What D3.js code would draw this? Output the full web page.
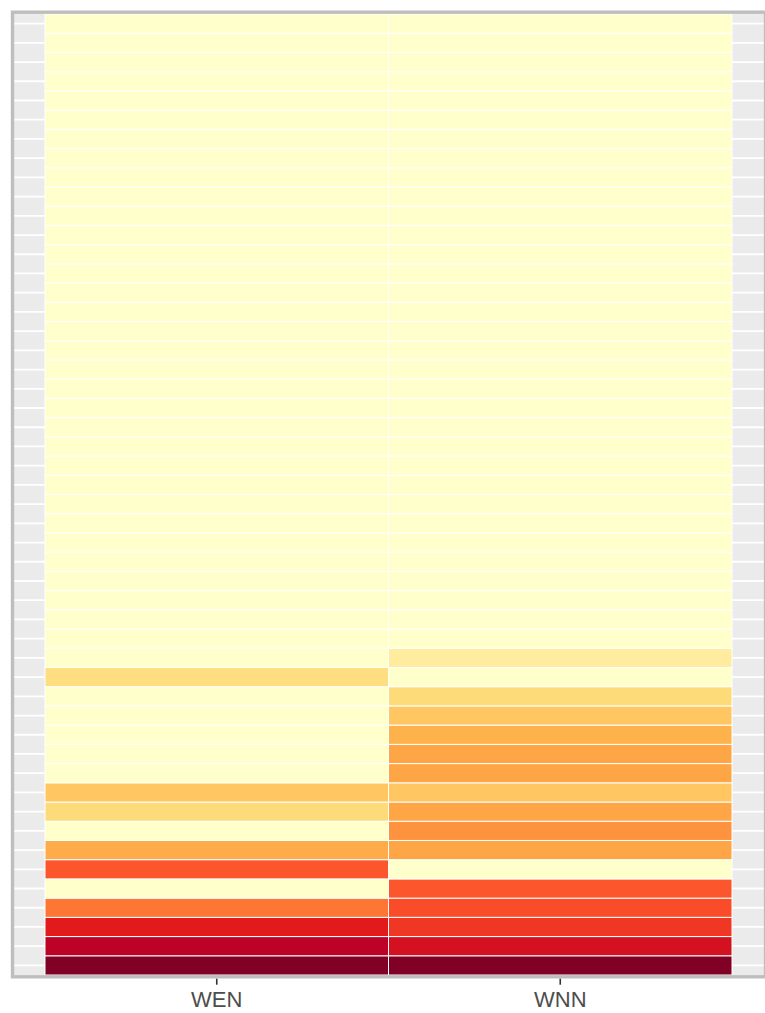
<!DOCTYPE html>
<html>
<head>
<meta charset="utf-8">
<script src="https://cdn.jsdelivr.net/npm/d3@7"></script>
<style>
  html, body { margin: 0; padding: 0; background: #ffffff; }
  svg { display: block; }
</style>
</head>
<body>
<svg id="chart" width="765" height="1013"></svg>
<script>
// ---- data ----
const categories = ["WEN", "WNN"];
// rows numbered from the bottom (1) to the top (50)
const rowIds = ["1","2","3","4","5","6","7","8","9","10",
  "11","12","13","14","15","16","17","18","19","20",
  "21","22","23","24","25","26","27","28","29","30",
  "31","32","33","34","35","36","37","38","39","40",
  "41","42","43","44","45","46","47","48","49","50"];
// fill value per row (0 = palest, 1 = darkest), bottom row first
const wenValues = [1.00, 0.87, 0.75, 0.55, 0.00, 0.61, 0.40, 0.00, 0.24, 0.31,
  0.00, 0.00, 0.00, 0.00, 0.00, 0.22, 0.00, 0.00, 0.00, 0.00,
  0.00, 0.00, 0.00, 0.00, 0.00, 0.00, 0.00, 0.00, 0.00, 0.00,
  0.00, 0.00, 0.00, 0.00, 0.00, 0.00, 0.00, 0.00, 0.00, 0.00,
  0.00, 0.00, 0.00, 0.00, 0.00, 0.00, 0.00, 0.00, 0.00, 0.00];
const wnnValues = [1.00, 0.80, 0.69, 0.63, 0.61, 0.00, 0.42, 0.48, 0.42, 0.31,
  0.42, 0.42, 0.375, 0.31, 0.24, 0.00, 0.13, 0.00, 0.00, 0.00,
  0.00, 0.00, 0.00, 0.00, 0.00, 0.00, 0.00, 0.00, 0.00, 0.00,
  0.00, 0.00, 0.00, 0.00, 0.00, 0.00, 0.00, 0.00, 0.00, 0.00,
  0.00, 0.00, 0.00, 0.00, 0.00, 0.00, 0.00, 0.00, 0.00, 0.00];
const paletteColors = ["#ffffcc","#ffeda0","#fed976","#feb24c","#fd8d3c",
  "#fc4e2a","#e31a1c","#bd0026","#800026"];

const cells = [];
rowIds.forEach((r, i) => {
  cells.push({ cat: categories[0], row: r, value: wenValues[i] });
  cells.push({ cat: categories[1], row: r, value: wnnValues[i] });
});

// ---- layout ----
const panel = { left: 14, top: 14, right: 764, bottom: 975 };
const svg = d3.select("#chart");

const x = d3.scaleBand().domain(categories).range([45, 732]).padding(0);
const y = d3.scaleBand().domain(rowIds).range([panel.bottom, panel.top]).padding(0);
const color = d3.scaleLinear()
  .domain(paletteColors.map((c, i) => i / (paletteColors.length - 1)))
  .range(paletteColors)
  .interpolate(d3.interpolateLab);

// panel background
svg.append("rect")
  .attr("x", panel.left).attr("y", panel.top)
  .attr("width", panel.right - panel.left)
  .attr("height", panel.bottom - panel.top)
  .attr("fill", "#ebebeb");

// horizontal grid lines at row centers
svg.append("g").selectAll("line")
  .data(rowIds)
  .join("line")
  .attr("x1", panel.left).attr("x2", panel.right)
  .attr("y1", d => y(d) + y.bandwidth() / 2)
  .attr("y2", d => y(d) + y.bandwidth() / 2)
  .attr("stroke", "#ffffff")
  .attr("stroke-width", 1.8);

// tiles
svg.append("g").selectAll("rect")
  .data(cells)
  .join("rect")
  .attr("x", d => x(d.cat))
  .attr("y", d => y(d.row))
  .attr("width", x.bandwidth())
  .attr("height", y.bandwidth())
  .attr("fill", d => color(d.value))
  .attr("stroke", "#ffffff")
  .attr("stroke-width", 1);

// panel border
svg.append("rect")
  .attr("x", panel.left - 1.5).attr("y", panel.top - 1.8)
  .attr("width", panel.right - panel.left + 3)
  .attr("height", panel.bottom - panel.top + 3.6)
  .attr("fill", "none")
  .attr("stroke", "#bebebe")
  .attr("stroke-width", 3.4);

// x axis
const xAxis = svg.append("g")
  .attr("transform", `translate(0,${panel.bottom + 3.7})`)
  .call(d3.axisBottom(x).tickSize(6).tickPadding(7));
xAxis.select(".domain").remove();
xAxis.selectAll(".tick line").attr("stroke", "#333333").attr("stroke-width", 1.6);
xAxis.selectAll(".tick text")
  .attr("fill", "#4d4d4d")
  .style("font-family", "'Liberation Sans', Arial, sans-serif")
  .style("font-size", "22px");
</script>
</body>
</html>
